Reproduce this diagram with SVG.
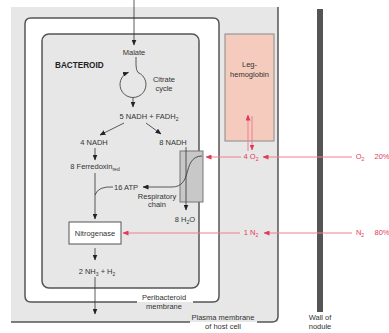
<svg xmlns="http://www.w3.org/2000/svg" width="389" height="333" viewBox="0 0 389 333">
<defs>
<marker id="ah" markerUnits="userSpaceOnUse" markerWidth="6" markerHeight="5" refX="5.5" refY="2.5" orient="auto"><path d="M0,0 L6,2.5 L0,5 z" fill="#222"/></marker>
<marker id="ahr" markerUnits="userSpaceOnUse" markerWidth="6" markerHeight="5" refX="5.5" refY="2.5" orient="auto"><path d="M0,0 L6,2.5 L0,5 z" fill="#e23a55"/></marker>
<style>
text{font-family:"Liberation Sans",Arial,sans-serif;font-size:7.5px;fill:#333;text-anchor:middle}
.r{fill:#e23a55}
.b{font-weight:bold;font-size:8.2px;fill:#222;text-anchor:start}
.sub{font-size:5px}
.mem{fill:none;stroke:#555;stroke-width:1.5}
.ln{fill:none;stroke:#333;stroke-width:0.8}
.arr{marker-end:url(#ah)}
.rl{fill:none;stroke:#ee7f91;stroke-width:1;marker-end:url(#ahr)}
</style>
</defs>
<g id="host-cell">
<rect x="11" y="7" width="267" height="315" fill="#e7e7e7"/>
<path class="mem" d="M278,7 V316 Q278,322 272,322 H257 M190,322 H11"/>
<text x="223" y="320">Plasma membrane</text>
<text x="223" y="329">of host cell</text>
</g>
<g id="peribacteroid">
<rect x="25" y="18" width="194" height="284" rx="6" fill="#fff"/>
<path class="mem" d="M137,302 H31 Q25,302 25,296 V24 Q25,18 31,18 H213 Q219,18 219,24 V296 Q219,302 213,302 H193"/>
<text x="164" y="300">Peribacteroid</text>
<text x="164" y="309">membrane</text>
</g>
<g id="bacteroid">
<rect x="42" y="34" width="157" height="254" rx="7" fill="#e7e7e7" stroke="#555" stroke-width="1.5"/>
<text class="b" x="55" y="68">BACTEROID</text>
</g>
<g id="leghemoglobin">
<rect x="225" y="34" width="49" height="107" fill="#f5cbbd" stroke="#8a8a8a" stroke-width="1"/>
<text x="249.5" y="67">Leg-</text>
<text x="249.5" y="77">hemoglobin</text>
</g>
<g id="wall">
<rect x="317" y="9" width="6" height="303" fill="#555"/>
<text x="320" y="320">Wall of</text>
<text x="320" y="329">nodule</text>
</g>
<g id="malate"><text x="134" y="55">Malate</text></g>
<g id="citrate-cycle"><text x="164" y="82">Citrate</text><text x="164" y="91">cycle</text></g>
<g id="nadh-fadh"><text x="149" y="119">5 NADH + FADH<tspan class="sub" dy="2">2</tspan></text></g>
<g id="nadh4"><text x="94" y="145">4 NADH</text></g>
<g id="nadh8"><text x="173" y="145">8 NADH</text></g>
<g id="ferredoxin"><text x="95" y="169">8 Ferredoxin<tspan class="sub" dy="2">red</tspan></text></g>
<g id="atp"><text x="126" y="190">16 ATP</text></g>
<g id="respiratory-chain">
<rect x="180" y="151" width="23" height="51" fill="#c8c8c8" stroke="#777" stroke-width="1"/>
<text x="157" y="199">Respiratory</text>
<text x="157" y="207">chain</text>
</g>
<g id="water"><text x="185" y="222">8 H<tspan class="sub" dy="2">2</tspan><tspan dy="-2">O</tspan></text></g>
<g id="nitrogenase">
<rect x="69" y="222" width="52" height="22" fill="#fff" stroke="#555" stroke-width="1"/>
<text x="95" y="236">Nitrogenase</text>
</g>
<g id="ammonia"><text x="97" y="274">2 NH<tspan class="sub" dy="2">3</tspan><tspan dy="-2"> + H</tspan><tspan class="sub" dy="2">2</tspan></text></g>
<g id="o2-labels">
<text class="r" x="251" y="159">4 O<tspan class="sub" dy="2">2</tspan></text>
<text class="r" x="360" y="159">O<tspan class="sub" dy="2">2</tspan></text>
<text class="r" x="382" y="159">20%</text>
</g>
<g id="n2-labels">
<text class="r" x="251" y="235">1 N<tspan class="sub" dy="2">2</tspan></text>
<text class="r" x="360" y="235">N<tspan class="sub" dy="2">2</tspan></text>
<text class="r" x="382" y="235">80%</text>
</g>
<g id="connectors">
<path class="ln arr" d="M134,0 V45"/>
<path class="ln" d="M136,57 V65 Q136,70 138,72.5"/>
<path class="ln arr" d="M138,72.5 A13,13 0 1,1 128.5,72.3"/>
<path class="ln arr" d="M133,97.5 V107"/>
<path class="ln arr" d="M124,123 L100,135"/>
<path class="ln arr" d="M146,123 L161,134"/>
<path class="ln arr" d="M95,148 V160"/>
<path class="ln arr" d="M95,173 V219"/>
<path class="ln" d="M113,187 Q98,186 95,195"/>
<path class="ln arr" d="M202,156 C191,156 189,166 187,173 C185,180 182,187 172,187 H143"/>
<path class="ln arr" d="M186,147 V210"/>
<path class="ln arr" d="M95,248 V260"/>
<path class="ln arr" d="M95,277 V314"/>
<path class="rl" d="M352,157 H263"/>
<path class="rl" d="M241,157 H206"/>
<path class="rl" d="M248,151 V115"/>
<path class="rl" d="M252,116 V150"/>
<path class="rl" d="M352,233 H264"/>
<path class="rl" d="M240,233 H123"/>
</g>
</svg>
